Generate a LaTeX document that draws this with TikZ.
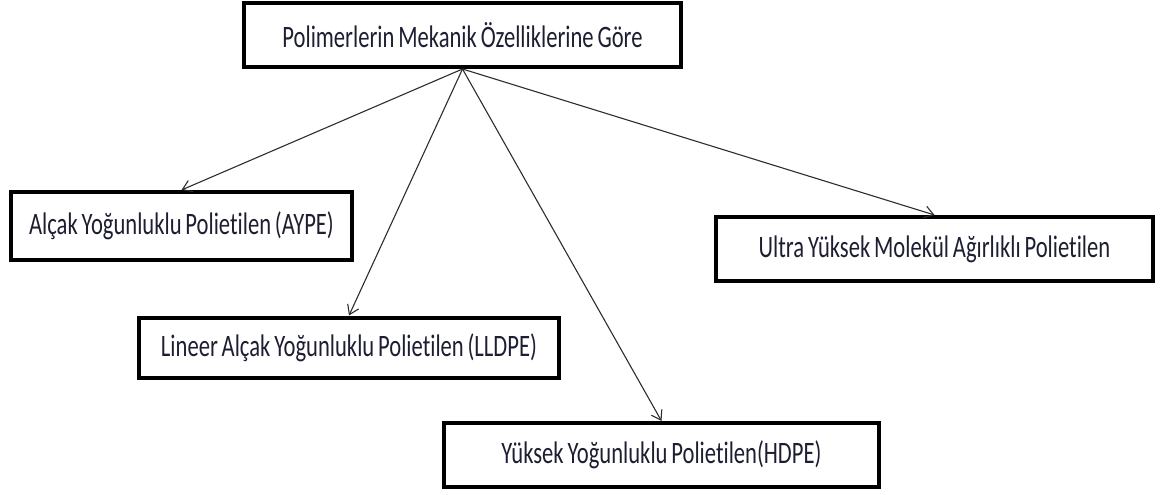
\documentclass[tikz,border=0pt]{standalone}
\usepackage{fontspec}
\setmainfont{Carlito}[Ligatures=NoCommon,WordSpace=0.75]
\usepackage{graphicx}
\usetikzlibrary{arrows.meta}
\definecolor{inktxt}{RGB}{30,30,50}
\definecolor{linegray}{RGB}{45,45,45}
\newcommand{\tallt}[1]{\scalebox{1}[1.38]{#1}}

\begin{document}
\begin{tikzpicture}[x=1pt,y=-1pt,>={Straight Barb[length=9pt,width=12pt]}]
	\tikzset{kutu/.style={draw,line width=4pt,inner sep=0pt,text=inktxt,font=\fontsize{22.6}{26}\selectfont}}
	\useasboundingbox (0,0) rectangle (1170,495);
	\node[kutu,minimum width=437pt,minimum height=64pt] (ana)  at (462.5,35)  {\tallt{Polimerlerin Mekanik Özelliklerine Göre}};
	\node[kutu,minimum width=341pt,minimum height=68pt] (aype) at (181.5,226) {\tallt{Alçak Yoğunluklu Polietilen (AYPE)}};
	\node[kutu,minimum width=420pt,minimum height=60pt] (lldpe) at (349,347.5) {\tallt{Lineer Alçak Yoğunluklu Polietilen (LLDPE)}};
	\node[kutu,minimum width=435pt,minimum height=64pt] (hdpe) at (661.5,455) {\tallt{Yüksek Yoğunluklu Polietilen(HDPE)}};
	\node[kutu,minimum width=437pt,minimum height=64pt] (uhmw) at (934.5,249) {\tallt{Ultra Yüksek Molekül Ağırlıklı Polietilen}};
	\tikzset{ok/.style={->,linegray,line width=1.1pt}}
	\path
	(ana.south) edge [ok] (aype.north)
	(ana.south) edge [ok] (lldpe.north)
	(ana.south) edge [ok] (hdpe.north)
	(ana.south) edge [ok] (uhmw.north);
\end{tikzpicture}
\end{document}
